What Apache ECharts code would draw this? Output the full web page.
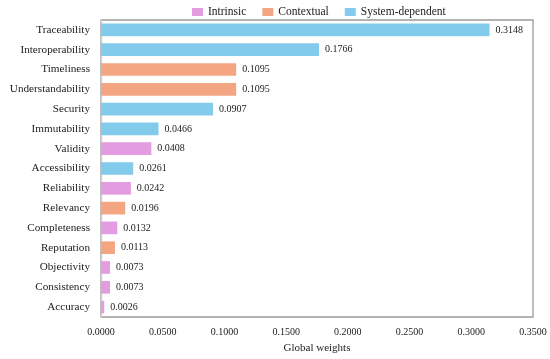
<!DOCTYPE html>
<html><head><meta charset="utf-8">
<script src="https://cdn.jsdelivr.net/npm/echarts@6/dist/echarts.min.js"></script>
<style>html,body{margin:0;padding:0;background:#fff}#c{width:550px;height:359px}</style>
</head><body><div id="c"></div>
<script>
const categories = ["Traceability","Interoperability","Timeliness","Understandability","Security","Immutability","Validity","Accessibility","Reliability","Relevancy","Completeness","Reputation","Objectivity","Consistency","Accuracy"];
const values = [0.3148,0.1766,0.1095,0.1095,0.0907,0.0466,0.0408,0.0261,0.0242,0.0196,0.0132,0.0113,0.0073,0.0073,0.0026];
const groups = ["System-dependent","System-dependent","Contextual","Contextual","System-dependent","System-dependent","Intrinsic","System-dependent","Intrinsic","Contextual","Intrinsic","Contextual","Intrinsic","Intrinsic","Intrinsic"];
const seriesNames = ["Intrinsic","Contextual","System-dependent"];
const colors = {"Intrinsic":"#E39CE0","Contextual":"#F4A682","System-dependent":"#82CBEC"};
const xTicks = [0,0.05,0.1,0.15,0.2,0.25,0.3,0.35];

const font = "'Liberation Serif', serif";
const chart = echarts.init(document.getElementById('c'));
chart.setOption({
  animation:false,
  textStyle:{fontFamily:font},
  legend:{top:1,left:187,itemWidth:11,itemHeight:8,itemGap:16,icon:'rect',
    textStyle:{fontFamily:font,fontSize:11.5,color:'#222'},data:seriesNames},
  grid:{left:101,right:17,top:20,bottom:41,show:true,borderColor:'#9a9a9a',borderWidth:1.3},
  xAxis:{type:'value',min:xTicks[0],max:xTicks[xTicks.length-1],interval:0.05,
    name:'Global weights',nameLocation:'middle',nameGap:26,
    nameTextStyle:{fontFamily:font,fontSize:11,color:'#222'},
    axisLine:{show:false},axisTick:{show:false},splitLine:{show:false},
    axisLabel:{formatter:v=>v.toFixed(4),fontFamily:font,fontSize:10,color:'#222',margin:10}},
  yAxis:{type:'category',data:categories,inverse:true,
    axisLine:{show:true,lineStyle:{color:'#d0d0d0',width:1.3}},axisTick:{show:false},
    axisLabel:{fontFamily:font,fontSize:11.2,color:'#222',margin:11}},
  series:seriesNames.map(n=>({
    name:n,type:'bar',stack:'t',barWidth:'64%',
    itemStyle:{color:colors[n]},
    label:{show:true,position:'right',distance:6,fontFamily:font,fontSize:10,color:'#222',
      formatter:p=>p.value==null?'':p.value.toFixed(4)},
    data:values.map((v,i)=>groups[i]===n?v:null)
  }))
});
</script></body></html>
